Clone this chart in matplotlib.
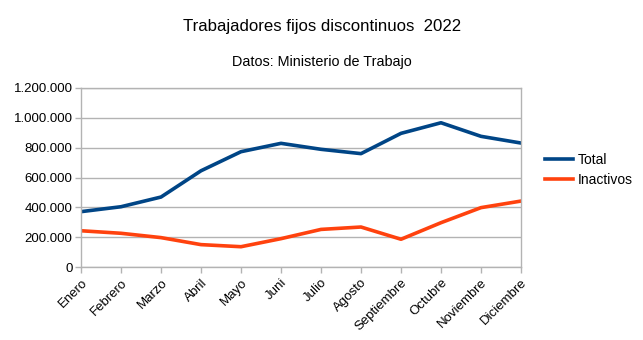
import matplotlib
matplotlib.use("Agg")
import matplotlib.pyplot as plt
from matplotlib.ticker import FuncFormatter, FixedLocator

plt.rcParams['font.family'] = ['Liberation Sans', 'DejaVu Sans']

meses = ["Enero", "Febrero", "Marzo", "Abril", "Mayo", "Juni", "Julio",
         "Agosto", "Septiembre", "Octubre", "Noviembre", "Diciembre"]
total = [371000, 404000, 469000, 645000, 773000, 829000, 789000,
         760000, 896000, 967000, 876000, 831000]
inactivos = [243000, 226000, 197000, 150000, 136000, 190000, 252000,
             268000, 186000, 297000, 398000, 442000]

fig = plt.figure(figsize=(6.43, 3.40), dpi=100)
ax = fig.add_axes([81/643, 1-267/340, (521-81)/643, (267-88)/340])

x = list(range(len(meses)))
ax.plot(x, total, color="#004586", lw=2.6, label="Total", solid_joinstyle="round")
ax.plot(x, inactivos, color="#ff420e", lw=2.6, label="Inactivos", solid_joinstyle="round")

ax.set_xlim(0, len(meses) - 1)
ax.set_ylim(0, 1200000)
ax.yaxis.set_major_locator(FixedLocator(range(0, 1200001, 200000)))
ax.yaxis.set_major_formatter(FuncFormatter(lambda v, p: f"{int(v):,}".replace(",", ".")))
ax.set_xticks(x)
ax.set_xticklabels(meses, rotation=45, ha="right", rotation_mode="anchor")

ax.grid(axis="y", color="#b3b3b3", lw=1)
ax.set_axisbelow(True)
for s in ax.spines.values():
    s.set_color("#b3b3b3")
    s.set_linewidth(1)
ax.tick_params(axis="both", color="#b3b3b3", length=4, width=1, labelsize=9.5, pad=2)
ax.tick_params(axis="x", pad=3)

fig.text(322/643, 1-27/340, "Trabajadores fijos discontinuos  2022", ha="center", va="center", fontsize=12.1)
fig.text(322/643, 1-62/340, "Datos: Ministerio de Trabajo", ha="center", va="center", fontsize=10.4)

fig.legend(loc="center left", bbox_to_anchor=(541/643, 1-170/340), frameon=False,
           fontsize=10, handlelength=2.0, handletextpad=0.35, labelspacing=0.45,
           borderaxespad=0, borderpad=0.3)

fig.savefig("out.png", dpi=100)
